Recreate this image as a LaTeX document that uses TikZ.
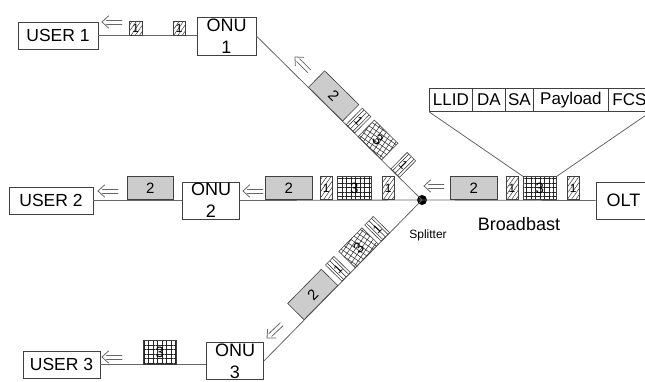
\documentclass[tikz,border=0pt]{standalone}
\usepackage{fontspec}
\setmainfont{Liberation Sans}
\usetikzlibrary{patterns.meta,calc}
\begin{document}
\begin{tikzpicture}[x=1pt,y=-1pt,
  box/.style={draw=black!75,line width=0.8pt,fill=white,inner sep=0pt,minimum height=27pt,font=\fontsize{17.5}{20}\selectfont},
  onu/.style={draw=black!75,line width=0.8pt,fill=white,inner sep=0pt,align=center,font=\fontsize{18}{22}\selectfont,minimum width=57pt,minimum height=37pt},
  cell/.style={draw=black!75,line width=0.8pt,fill=white,inner sep=0pt,minimum height=23pt,anchor=north west,font=\fontsize{17}{20}\selectfont},
  link/.style={draw=black!60,line width=0.8pt},
  pkt/.style={draw=black!75,line width=0.6pt,inner sep=0pt,minimum height=23pt},
  gpkt/.style={pkt,fill=black!20,minimum width=47pt,font=\fontsize{15}{15}\selectfont},
  hpkt/.style={pkt,minimum width=12pt,font=\fontsize{12}{12}\selectfont,pattern={Lines[angle=55,distance=3.5pt,line width=0.5pt]},pattern color=black!80},
  xpkt/.style={pkt,minimum width=33pt,font=\fontsize{15}{15}\selectfont,pattern={Hatch[angle=0,distance=4.5pt,line width=0.5pt]},pattern color=black!85},
  dpkt/.style={pkt,anchor=south,font=\fontsize{12}{12}\selectfont},
  hl/.style={draw=black!85,line width=0.5pt},
  arrline/.style={draw=black!60,line width=0.8pt,line cap=round,line join=miter},
  pics/dblarrow/.style={code={
    \draw[arrline] (4.5,-2) -- (20,-2) (4.5,2) -- (20,2);
    \draw[arrline] (6.5,-6) -- (0,0) -- (6.5,6);
  }},
]
\useasboundingbox (0,0) rectangle (645,381);

% boxes
\node[box,minimum width=80pt] (user1) at (58,35.5) {USER 1};
\node[box,minimum width=84pt] (user2) at (51,200.5) {USER 2};
\node[box,minimum width=77pt] (user3) at (61.5,364.5) {USER 3};
\node[onu,minimum width=59pt,minimum height=38pt] (onu1) at (226.5,36) {ONU\\1};
\node[onu] (onu2) at (211,200.5) {ONU\\2};
\node[onu] (onu3) at (235,361) {ONU\\3};
\node[box,minimum width=55pt,minimum height=37pt,font=\fontsize{18}{20}\selectfont] (olt) at (623.5,200.5) {OLT};
\node[circle,fill=black,inner sep=0pt,minimum size=10pt] (spl) at (422,200) {};

% links
\draw[link] (user1.east) -- (user1.east -| onu1.west);
\draw[link] (onu1.east) -- (spl.center);
\draw[link] (user2.east) -- (onu2.west);
\draw[link] (onu2.east) -- (spl.center);
\draw[link] (spl.center) -- (olt.west);
\draw[link] (spl.center) -- (onu3.east);
\draw[link] (user3.east) -- (user3.east -| onu3.west);

% labels
\node[font=\fontsize{18}{20}\selectfont] (bcast) at (519,224) {Broadbast};
\node[font=\fontsize{12}{14}\selectfont] (spltxt) at (428,235) {Splitter};

% header
\node[cell,minimum width=43pt] (llid) at (429,88) {LLID};
\node[cell,minimum width=33pt] (da) at (472,88) {DA};
\node[cell,minimum width=28pt] (sa) at (505,88) {SA};
\node[cell,minimum width=75pt] (pay) at (533,88) {Payload};
\node[cell,minimum width=42pt] (fcs) at (608,88) {FCS};

% packets near USER 1
\node[hpkt,minimum width=13pt,minimum height=14pt,anchor=south west] (u1a) at (129,35.5) {1};
\node[hpkt,minimum width=12pt,minimum height=14pt,anchor=south west] (u1b) at (173,35.5) {1};

% packets near USER 2
\node[gpkt,minimum width=46pt,anchor=south west] (u2a) at (127,200) {2};
\node[gpkt,anchor=south west] (o2a) at (265,200) {2};
\node[hpkt,anchor=south west] (o2b) at (320,200) {1};
\node[xpkt,minimum width=34pt,anchor=south west] (o2c) at (337,200) {3};
\node[hpkt,anchor=south west] (o2d) at (382,200) {1};

% packets from OLT
\node[gpkt,anchor=south west] (ola) at (450,200) {2};
\node[hpkt,minimum width=11.5pt,anchor=south west] (olb) at (506,200) {1};
\node[xpkt,anchor=south west] (olc) at (523,200) {3};
\node[hpkt,anchor=south west] (old) at (567,200) {1};

\draw[link] (llid.south west) -- (olc.north west);
\draw[link] (fcs.south east) -- (olc.north east);

% packets near USER 3
\node[xpkt,minimum height=24pt,anchor=south west] (u3a) at (143,364.5) {3};

% ---------- upper diagonal packets ----------
\coordinate (c1a) at ($(spl.center)!136pt!(onu1.east)$);
\coordinate (c1b) at ($(spl.center)!101pt!(onu1.east)$);
\coordinate (c1c) at ($(spl.center)!73.5pt!(onu1.east)$);
\coordinate (c1d) at ($(spl.center)!38pt!(onu1.east)$);
\foreach \c in {c1b,c1d}{
  \begin{scope}[shift={(\c)},rotate=-44.65]
    \clip (-6,0) rectangle (6,-23);
    \foreach \k in {-3.6,0,3.6} \draw[hl] (\k,2) -- (\k,-25);
  \end{scope}}
\begin{scope}[shift={(c1c)},rotate=-44.65]
  \clip (-16.5,0) rectangle (16.5,-23);
  \begin{scope}[rotate=10]
    \foreach \k in {-7,...,7}{\draw[hl] (\k*4.5,-40) -- (\k*4.5,40); \draw[hl] (-40,\k*4.5) -- (40,\k*4.5);}
  \end{scope}
\end{scope}
\node[gpkt,dpkt,minimum width=48pt,rotate=-44.65,font=\fontsize{15}{15}\selectfont] (d1a) at (c1a) {2};
\node[dpkt,minimum width=12pt,rotate=-44.65] (d1b) at (c1b) {1};
\node[dpkt,minimum width=33pt,rotate=-44.65,font=\fontsize{15}{15}\selectfont] (d1c) at (c1c) {3};
\node[dpkt,minimum width=12pt,rotate=-44.65] (d1d) at (c1d) {1};

% ---------- lower diagonal packets ----------
\coordinate (c3a) at ($(spl.center)!144pt!(onu3.east)$);
\coordinate (c3b) at ($(spl.center)!108pt!(onu3.east)$);
\coordinate (c3c) at ($(spl.center)!78.5pt!(onu3.east)$);
\coordinate (c3d) at ($(spl.center)!52pt!(onu3.east)$);
\foreach \c in {c3b,c3d}{
  \begin{scope}[shift={(\c)},rotate=45.45]
    \clip (-6,0) rectangle (6,-23);
    \foreach \k in {-3.6,0,3.6} \draw[hl] (\k,2) -- (\k,-25);
  \end{scope}}
\begin{scope}[shift={(c3c)},rotate=45.45]
  \clip (-16.5,0) rectangle (16.5,-23);
  \begin{scope}[rotate=10]
    \foreach \k in {-7,...,7}{\draw[hl] (\k*4.5,-40) -- (\k*4.5,40); \draw[hl] (-40,\k*4.5) -- (40,\k*4.5);}
  \end{scope}
\end{scope}
\node[gpkt,dpkt,minimum width=48pt,rotate=45.45,font=\fontsize{15}{15}\selectfont] (d3a) at (c3a) {2};
\node[dpkt,minimum width=12pt,rotate=45.45] (d3b) at (c3b) {1};
\node[dpkt,minimum width=33pt,rotate=45.45,font=\fontsize{15}{15}\selectfont] (d3c) at (c3c) {3};
\node[dpkt,minimum width=12pt,rotate=45.45] (d3d) at (c3d) {1};

% direction arrows (tip positions)
\coordinate (a1) at (102,22);
\coordinate (a2) at (98,191);
\coordinate (a3) at (243,191);
\coordinate (a4) at (424,186);
\coordinate (a5) at (102,357);
\coordinate (a6) at (295,57);
\coordinate (a7) at (267,338);
\pic at (a1) {dblarrow};
\pic at (a2) {dblarrow};
\pic at (a3) {dblarrow};
\pic at (a4) {dblarrow};
\pic at (a5) {dblarrow};
\pic[rotate=-45] at (a6) {dblarrow};
\pic[rotate=43] at (a7) {dblarrow};
\end{tikzpicture}
\end{document}
